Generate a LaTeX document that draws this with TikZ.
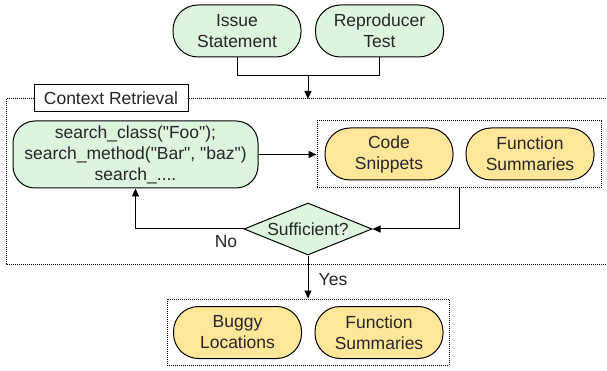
\documentclass[tikz,border=0pt]{standalone}
\usepackage{fontspec}
\setmainfont{Liberation Sans}[Ligatures=TeXOff]
\usetikzlibrary{arrows.meta,shapes.geometric}
\definecolor{mint}{RGB}{221,244,223}
\definecolor{sand}{RGB}{255,230,153}
\newcommand{\dq}{\symbol{34}}
\tikzset{
  every node/.style={font=\fontsize{17.5}{21}\selectfont, text=black!85},
  pill/.style={draw=black, line width=1pt, rounded corners=25pt, align=center,
    minimum width=128pt, minimum height=52pt, inner sep=0pt},
  greenpill/.style={pill, fill=mint},
  yellowpill/.style={pill, fill=sand},
  dotbox/.style={draw=black, line width=1pt, dash pattern=on 1pt off 1pt},
  conn/.style={draw=black, line width=1pt},
  arr/.style={conn, -{Triangle[width=7pt,length=8pt]}},
}
\begin{document}
\begin{tikzpicture}[x=1pt,y=-1pt]
\useasboundingbox (0,0) rectangle (607,371);
% outer box
\draw[dotbox] (6,99) rectangle (612,264);
\node[draw=black, line width=1pt, fill=white, minimum width=154pt, minimum height=27pt, inner sep=0pt] (ctx) at (111,98.5) {Context Retrieval};
% top nodes
\node[greenpill] (issue) at (237,31) {Issue\\Statement};
\node[greenpill] (repro) at (379.5,31) {Reproducer\\Test};
\coordinate (j) at (308,76);
\coordinate (ctxin) at (308,99);
\draw[conn] (issue.south) |- (j);
\draw[conn] (repro.south) |- (j);
\draw[arr] (j) -- (ctxin);
% search node
\node[greenpill, rounded corners=22pt, minimum width=245pt, minimum height=67pt] (search) at (135.5,154.5)
  {search\_class(\dq Foo\dq);\\search\_method(\dq Bar\dq, \dq baz\dq)\\search\_....};
% inner box
\node[dotbox, minimum width=284pt, minimum height=67pt, inner sep=0pt] (inner) at (459,154.5) {};
\node[yellowpill] (code) at (389,154) {Code\\Snippets};
\node[yellowpill] (fs) at (530,154) {Function\\Summaries};
\draw[arr] (search.east) -- (inner.west);
% decision
\node[draw=black, line width=1pt, fill=mint, diamond, aspect=2.46, minimum width=128pt, minimum height=52pt, inner sep=0pt] (suf) at (308,229) {Sufficient?};
\draw[arr] (inner.south) |- (suf.east);
\draw[arr] (suf.west) -| (search.south);
\node (no) at (226,242) {No};
% bottom
\node[dotbox, minimum width=282pt, minimum height=66pt, inner sep=0pt] (out) at (308,332) {};
\node[yellowpill] (buggy) at (237.5,332.5) {Buggy\\Locations};
\node[yellowpill] (fs2) at (379,332.5) {Function\\Summaries};
\draw[arr] (suf.south) -- (out.north);
\node (yes) at (333,280) {Yes};
\end{tikzpicture}
\end{document}
